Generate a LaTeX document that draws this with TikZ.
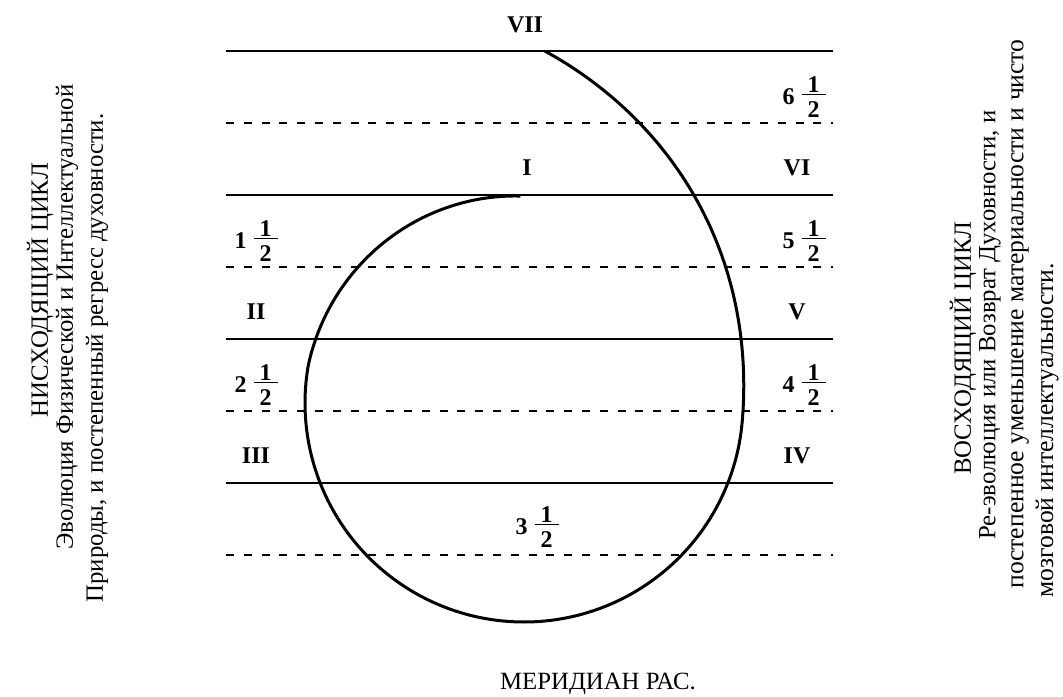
\documentclass[tikz,border=0pt]{standalone}
\usepackage{fontspec}
\setmainfont{Liberation Serif}
\usepackage{tikz}

\newcommand{\halfstack}{\vbox{\hbox to 12pt{\hfil\textbf{1}\hfil}\kern0.6pt
    \hrule height 0.5pt\kern3.5pt\hbox to 12pt{\hfil\textbf{2}\hfil}}}
\newcommand{\halfmark}[1]{\textbf{#1}\kern3.5pt\raisebox{-6.5pt}{\halfstack}}

\begin{document}
\begin{tikzpicture}[
    x=0.5pt, y=-0.5pt,
    level/.style={line width=1pt},
    halflevel/.style={line width=0.8pt, dash pattern=on 4pt off 4.9pt},
    spiral/.style={line width=1.5pt, line join=round},
    num/.style={font=\fontsize{12}{14}\selectfont\bfseries, inner sep=0pt},
    side/.style={font=\fontsize{12.4}{15}\selectfont, rotate=90, inner sep=0pt},
    declare function={spr(\t)=219 + 143.7*max(0,1-\t/95)^2 - 12*max(0,(\t-280)/79);}
]
\useasboundingbox (0,0) rectangle (1063,696);

% levels
\foreach \y in {51,195,339,483}
    \draw[level] (226,\y) -- (833,\y);
\foreach \y in {123,267,411,555}
    \draw[halflevel] (226,\y) -- (833,\y);

% spiral, from VII round to I
\draw[spiral] plot[domain=3.4:359, samples=180, variable=\t, smooth]
    ({524 + spr(\t)*sin(\t)}, {403 - spr(\t)*cos(\t)});

% numbers
\node[num] (vii) at (525,25) {VII};
\node[num] (i) at (527,168) {I};
\node[num] (vi) at (797,168) {VI};
\node[num] (v) at (797,312) {V};
\node[num] (iv) at (797,456) {IV};
\node[num] (ii) at (256,312) {II};
\node[num] (iii) at (256,456) {III};
\node[num] (six half) at (804,97) {\halfmark{6}};
\node[num] (five half) at (804,241) {\halfmark{5}};
\node[num] (four half) at (804,385) {\halfmark{4}};
\node[num] (one half) at (256,241) {\halfmark{1}};
\node[num] (two half) at (256,385) {\halfmark{2}};
\node[num] (three half) at (537,527) {\halfmark{3}};

% descending cycle
\node[side] (down title) at (40,290) {НИСХОДЯЩИЙ ЦИКЛ};
\node[side] (down a) at (67,317) {Эволюция Физической и Интеллектуальной};
\node[side] (down b) at (97,358) {Природы, и постепенный регресс духовности.};

% ascending cycle
\node[side] (up title) at (963,348) {ВОСХОДЯЩИЙ ЦИКЛ};
\node[side] (up a) at (990,325) {Ре-эволюция или Возврат Духовности, и};
\node[side, font=\fontsize{12.8}{15}\selectfont] (up b) at (1020,314) {постепенное уменьшение материальности и чисто};
\node[side, font=\fontsize{12.8}{15}\selectfont, anchor=west] (up c) at (1047,598) {мозговой интеллектуальности.};

\node[font=\fontsize{12.4}{15}\selectfont, anchor=base] (meridian) at (598,689) {МЕРИДИАН РАС.};
\end{tikzpicture}
\end{document}
